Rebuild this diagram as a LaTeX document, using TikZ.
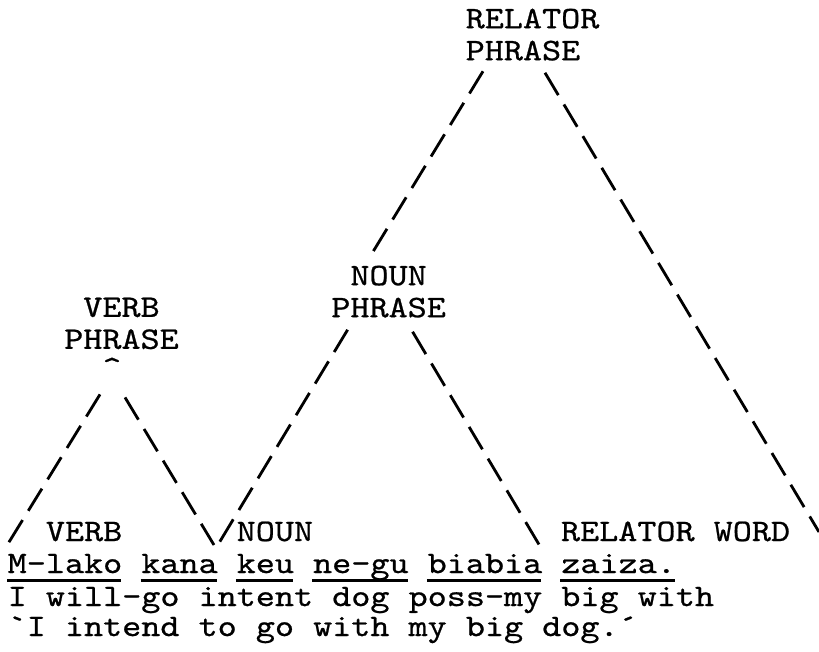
\documentclass[tikz,border=0pt]{standalone}
\usepackage{fontspec}
\setmonofont[FakeStretch=1.16,FakeBold=0.7]{lmmono10-regular.otf}

\tikzset{
  lbl/.style={inner sep=0pt, font=\ttfamily\fontsize{8.92}{9.1}\selectfont},
  tree/.style={line width=0.8pt, dash pattern=on 7.4pt off 3.1pt},
  uline/.style={line width=0.7pt}
}

\begin{document}
\begin{tikzpicture}[x=0.1mm, y=-0.1mm]

\useasboundingbox (0,0) rectangle (819,651);

\node[lbl, align=left, anchor=north west] (rp) at (465,8) {RELATOR\\PHRASE};
\node[lbl, align=center, anchor=north] (np) at (388.6,265) {NOUN\\PHRASE};
\node[lbl, align=center, anchor=north] (vp) at (121.5,297) {VERB\\PHRASE};
\node[lbl, anchor=north] (vphat) at (112,357) {\textasciicircum};

\node[lbl, anchor=base west] (verb) at (45.2,541) {VERB};
\node[lbl, anchor=base west] (noun) at (236,541) {NOUN};
\node[lbl, anchor=base west] (relword) at (560.3,541) {RELATOR WORD};
\coordinate (rpend) at (819,532);

\node[lbl, anchor=base west] (text) at (7,573) {M-lako kana keu ne-gu biabia zaiza.};
\node[lbl, anchor=base west] (gloss) at (7,606) {I will-go intent dog poss-my big with};
\node[lbl, anchor=base west] (free) at (7,636) {`I intend to go with my big dog.´};

\foreach \a/\b in {0/6,7/11,12/15,16/21,22/28,29/35}
  \draw[uline] ([shift={(19.08*\a,7.5)}]text.base west) -- ([shift={(19.08*\b,7.5)}]text.base west);

\draw[tree] ([shift={(18,10)}]rp.south west) -- ([shift={(41,-11)}]np.north west);
\draw[tree] ([shift={(80,11.5)}]rp.south west) -- (rpend);
\draw[tree] ([shift={(17,11.5)}]np.south west) -- ([shift={(-17,2)}]noun.base west);
\draw[tree] ([shift={(-34,13.5)}]np.south east) -- ([shift={(-21,4)}]relword.base west);
\draw[tree] ([shift={(-21.5,44.5)}]vp.south) -- ([shift={(-38,4)}]verb.base west);
\draw[tree] ([shift={(3.5,47.5)}]vp.south) -- ([shift={(-22,4)}]noun.base west);

\end{tikzpicture}
\end{document}
